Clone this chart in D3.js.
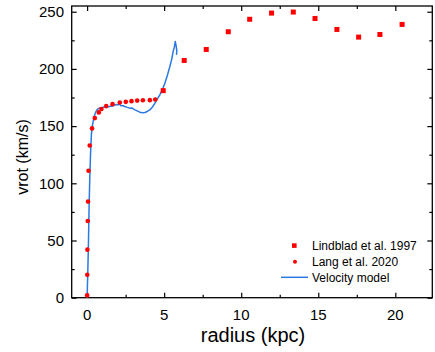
<!DOCTYPE html>
<html>
<head>
<meta charset="utf-8">
<script src="https://cdn.jsdelivr.net/npm/d3@7"></script>
<style>
  body { margin: 0; background: #fff; }
  text { font-family: "Liberation Sans", Arial, sans-serif; fill: #000; }
</style>
</head>
<body>
<div id="chart"></div>
<script>
// Lindblad et al. 1997 (squares)
var lindbladR = [4.94, 6.30, 7.73, 9.16, 10.55, 11.97, 13.38, 14.79, 16.21, 17.62, 19.0, 20.44];
var lindbladV = [181, 207.4, 217, 232.5, 243.4, 248.8, 249.7, 244.1, 234.5, 227.8, 230.1, 238.9];

// Lang et al. 2020 (dots)
var langR = [0.0, 0.01, 0.02, 0.04, 0.06, 0.09, 0.17, 0.32, 0.5, 0.76, 0.93, 1.24, 1.65, 2.12, 2.51, 2.88, 3.25, 3.62, 4.07, 4.42];
var langV = [2, 20, 42, 67, 84, 111, 133, 148, 157, 162, 165, 167.5, 169.2, 170.6, 171.2, 171.8, 172.3, 172.6, 172.7, 173.2];

// velocity model (line)
var modelR = [0, 0.05, 0.09, 0.13, 0.17, 0.22, 0.28, 0.36, 0.46, 0.55, 0.65, 0.78, 0.95, 1.1, 1.26, 1.45, 1.69, 1.85, 2.01, 2.1, 2.2, 2.35, 2.45, 2.6, 2.77, 2.9, 3.1, 3.25, 3.42, 3.6, 3.75, 3.9, 4.07, 4.2, 4.4, 4.55, 4.72, 4.9, 5.05, 5.2, 5.37, 5.5, 5.58, 5.66, 5.72, 5.78, 5.82, 5.8];
var modelV = [0, 25, 50, 80, 103, 125, 143, 152, 158.4, 162, 164.5, 165.7, 166, 166.8, 166.4, 167.2, 167.7, 168.8, 168.6, 169.3, 167.7, 167.8, 167.1, 166.4, 165.7, 165.9, 164.2, 163.3, 162.2, 161.6, 161.9, 162.8, 164.2, 166, 170, 173.5, 177.3, 182.5, 187.6, 194, 202.1, 209, 215.2, 219, 224, 220, 216, 212.3];

var xTicks = [0, 5, 10, 15, 20];
var yTicks = [0, 50, 100, 150, 200, 250];

var svgWidth = 435, svgHeight = 352;
var plot = { left: 71.7, right: 432.3, top: 6, bottom: 297.7 };
var red = "#ff0000", blue = "#2a7ae2";

var svg = d3.select("#chart").append("svg")
  .attr("width", svgWidth)
  .attr("height", svgHeight);

var x = d3.scaleLinear().domain([-1, 22.4]).range([plot.left, plot.right]);
var y = d3.scaleLinear().domain([0, 255]).range([plot.bottom, plot.top]);

// inward ticks, mirrored on top and right
function tickAxes(axisFn, scale, majors, minors, pos) {
  svg.append("g").attr("transform", pos)
    .call(axisFn(scale).tickValues(minors).tickSize(3).tickFormat(""))
    .call(g => g.select(".domain").remove());
  svg.append("g").attr("transform", pos)
    .call(axisFn(scale).tickValues(majors).tickSize(5).tickFormat(""))
    .call(g => g.select(".domain").remove());
}

var xMinor = d3.range(2.5, 22.4, 5);
var yMinor = d3.range(25, 255, 50);

tickAxes(d3.axisTop, x, xTicks, xMinor, `translate(0,${plot.bottom})`);
tickAxes(d3.axisBottom, x, xTicks, xMinor, `translate(0,${plot.top})`);
tickAxes(d3.axisRight, y, yTicks, yMinor, `translate(${plot.left},0)`);
tickAxes(d3.axisLeft, y, yTicks, yMinor, `translate(${plot.right},0)`);
svg.selectAll(".tick line").attr("stroke", "#000").attr("stroke-width", 1.2);

// frame
svg.append("rect")
  .attr("x", plot.left).attr("y", plot.top)
  .attr("width", plot.right - plot.left).attr("height", plot.bottom - plot.top)
  .attr("fill", "none").attr("stroke", "#000").attr("stroke-width", 1.3);

// tick labels
svg.selectAll(".xlab").data(xTicks).enter().append("text")
  .attr("x", d => x(d)).attr("y", 320)
  .attr("text-anchor", "middle").attr("font-size", 15)
  .text(d => d);

svg.selectAll(".ylab").data(yTicks).enter().append("text")
  .attr("x", 64).attr("y", d => y(d) + 5.3)
  .attr("text-anchor", "end").attr("font-size", 15)
  .text(d => d);

// axis titles
svg.append("text")
  .attr("x", (plot.left + plot.right) / 2 + 1).attr("y", 342)
  .attr("text-anchor", "middle").attr("font-size", 20)
  .text("radius (kpc)");

svg.append("text")
  .attr("transform", `translate(28, 157) rotate(-90)`)
  .attr("text-anchor", "middle").attr("font-size", 16)
  .text("vrot (km/s)");

// model line
var line = d3.line().x(d => x(d[0])).y(d => y(d[1]));
svg.append("path")
  .datum(d3.zip(modelR, modelV))
  .attr("d", line)
  .attr("fill", "none")
  .attr("stroke", blue)
  .attr("stroke-width", 1.5)
  .attr("stroke-linejoin", "round");

// Lang dots
svg.selectAll(".lang").data(d3.zip(langR, langV)).enter().append("circle")
  .attr("cx", d => x(d[0])).attr("cy", d => y(d[1]))
  .attr("r", 2.3).attr("fill", red);

// Lindblad squares
svg.selectAll(".lind").data(d3.zip(lindbladR, lindbladV)).enter().append("rect")
  .attr("x", d => x(d[0]) - 2.5).attr("y", d => y(d[1]) - 2.5)
  .attr("width", 5).attr("height", 5).attr("fill", red);

// legend
var legend = svg.append("g");
legend.append("rect").attr("x", 292).attr("y", 243.3).attr("width", 4.6).attr("height", 4.6).attr("fill", red);
legend.append("text").attr("x", 312).attr("y", 250.3).attr("font-size", 12).text("Lindblad et al. 1997");
legend.append("circle").attr("cx", 295).attr("cy", 261.7).attr("r", 2).attr("fill", red);
legend.append("text").attr("x", 312).attr("y", 266).attr("font-size", 12).text("Lang et al. 2020");
legend.append("line").attr("x1", 281).attr("x2", 308).attr("y1", 277.3).attr("y2", 277.3)
  .attr("stroke", blue).attr("stroke-width", 1.5);
legend.append("text").attr("x", 312).attr("y", 281.8).attr("font-size", 12).text("Velocity model");
</script>
</body>
</html>
